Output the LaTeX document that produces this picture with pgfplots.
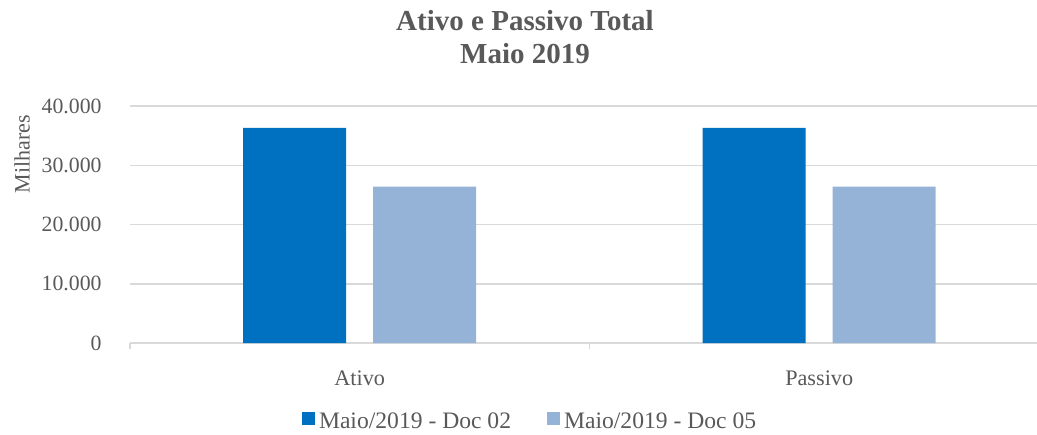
\documentclass[border=0pt]{standalone}
\usepackage{pgfplots}
\pgfplotsset{compat=1.18}
\usepackage{fontspec}
\setmainfont{Liberation Serif}
\definecolor{txt}{HTML}{595959}
\definecolor{grd}{HTML}{D9D9D9}
\definecolor{cA}{HTML}{0070C0}
\definecolor{cB}{HTML}{95B3D7}
\begin{document}
\begin{tikzpicture}
\path[use as bounding box] (0,0) rectangle (518.5pt,217pt);
\node[anchor=base, text=txt, font=\fontsize{14.5}{17}\selectfont\bfseries] at (262.5pt,201.5pt) {Ativo e Passivo Total};
\node[anchor=base, text=txt, font=\fontsize{14.5}{17}\selectfont\bfseries] at (262.5pt,185pt) {Maio 2019};
\node[rotate=90, text=txt, font=\fontsize{11}{13}\selectfont] at (11pt,140pt) {Milhares};
\begin{axis}[
  at={(65pt,45.5pt)}, anchor=south west,
  scale only axis, width=453.5pt, height=118.5pt,
  xmin=-0.5, xmax=1.474, ymin=0, ymax=40000,
  ybar=13.5pt, bar width=51.5pt,
  axis x line*=bottom, axis y line*=left,
  x axis line style={draw=grd, line width=0.75pt},
  y axis line style={draw=none},
  ymajorgrids, grid style={draw=grd, line width=0.75pt},
  ytick={0,10000,20000,30000,40000},
  scaled y ticks=false,
  /pgf/number format/.cd, 1000 sep={.}, assume math mode=true, /pgfplots/.cd,
  ytick style={draw=none},
  yticklabel style={text=txt, font=\fontsize{10.9}{13}\selectfont, inner sep=0pt, xshift=-14pt},
  xtick={0,1}, xticklabels={Ativo,Passivo},
  xtick style={draw=none},
  xticklabel style={text=txt, font=\fontsize{11.1}{13}\selectfont, anchor=north, inner sep=0pt, yshift=-9.5pt},
  extra x ticks={-0.5,0.5}, extra x tick labels={},
  extra x tick style={xtick style={draw=grd, line width=0.75pt}, tick align=outside, major tick length=3pt},
  legend columns=2,
  legend style={at={(0.44,-0.331)}, anchor=center, draw=none, fill=none, inner sep=0pt,
    nodes={inner sep=0pt, text=txt, font=\fontsize{11.8}{14}\selectfont},
    /tikz/column sep=2pt,
    /tikz/every even column/.append style={column sep=18pt}},
  legend image code/.code={\fill[#1] (0pt,-1.6pt) rectangle (6.5pt,4.9pt);},
]
\addplot[fill=cA, draw=none] coordinates {(0,36300) (1,36300)};
\addplot[fill=cB, draw=none] coordinates {(0,26400) (1,26400)};
\legend{Maio/2019 - Doc 02, Maio/2019 - Doc 05}
\end{axis}
\end{tikzpicture}
\end{document}
